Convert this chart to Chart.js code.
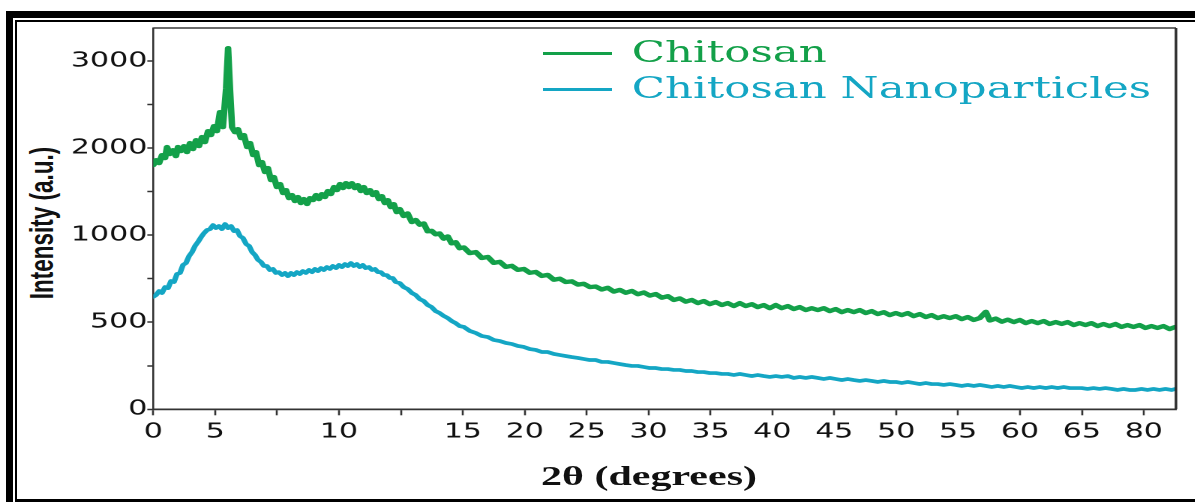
<!DOCTYPE html>
<html>
<head>
<meta charset="utf-8">
<script src="https://cdn.jsdelivr.net/npm/chart.js@4.4.1/dist/chart.umd.min.js"></script>
<style>
  html, body { margin:0; padding:0; background:#fff; width:1195px; height:502px; overflow:hidden; }
  #outer { position:absolute; left:6px; top:11px; width:1400px; height:700px; border-left:7px solid #000; border-top:7px solid #000; box-sizing:border-box; }
  #inner { position:absolute; left:15px; top:20px; width:1400px; height:482px; border-left:2px solid #000; border-top:2px solid #000; border-bottom:3px solid #000; box-sizing:border-box; }
  #wrap { position:absolute; left:0; top:0; width:797px; height:502px; transform:scaleX(1.5); transform-origin:0 0; }
  #c { position:absolute; left:0; top:0; }
  .lg-line { position:absolute; left:361.8px; width:46px; height:2.7px; }
  .lg-text { position:absolute; left:421.1px; font-family:'DejaVu Serif', serif; font-size:29px; line-height:29px; white-space:nowrap; }
  #xtitle { position:absolute; left:332.7px; width:200px; top:462px; text-align:center; font-family:'Liberation Serif', serif; font-weight:bold; font-size:28px; line-height:28px; color:#111; white-space:nowrap; }
  #ytitle { position:absolute; left:-58px; top:210px; width:200px; height:26px; line-height:26px; text-align:center; font-family:'Liberation Sans', Arial, sans-serif; font-weight:bold; font-size:22.5px; color:#111; transform:rotate(-90deg) scaleY(1.5); white-space:nowrap; }
</style>
</head>
<body>
<div id="outer"></div>
<div id="inner"></div>
<div id="ytitle">Intensity (a.u.)</div>
<div id="wrap">
  <canvas id="c" width="797" height="502"></canvas>
  <div class="lg-line" id="lgl1" style="top:52px"></div>
  <div class="lg-text" id="lgt1" style="top:38.2px">Chitosan</div>
  <div class="lg-line" id="lgl2" style="top:88px"></div>
  <div class="lg-text" id="lgt2" style="top:73.8px">Chitosan Nanoparticles</div>
  <div id="xtitle">2θ (degrees)</div>
</div>
<script>
// ---------- data ----------
const seriesNames = ['Chitosan', 'Chitosan Nanoparticles'];
const seriesColors = ['#13a049', '#14a6c4'];

const xTickValues = [0, 5, 7.5, 10, 12.5, 15, 20, 25, 30, 35, 40, 45, 50, 55, 60, 65, 80];
const xTickLabels = ['0', '5', '', '10', '', '15', '20', '25', '30', '35', '40', '45', '50', '55', '60', '65', '80'];
const yTickValues = [0, 250, 500, 750, 1000, 1500, 2000, 2500, 3000];
const yTickLabels = ['0', '', '500', '', '1000', '', '2000', '', '3000'];

// axis segments as drawn in the figure: [value, tick slot]
const xBreaks = [[0, 0], [5, 1], [10, 3], [15, 5], [65, 15], [80, 16]];
const yBreaks = [[0, 0], [1000, 4], [3000, 8]];

const chitosanTheta = [0,0.22,0.47,0.70,0.95,1.11,1.34,1.59,1.83,1.99,2.24,2.48,2.72,2.96,3.21,3.45,3.69,3.93,4.17,4.42,4.66,4.90,5.07,5.19,5.31,5.44,5.52,5.60,5.68,5.80,5.92,6.04,6.16,6.29,6.41,6.53,6.65,6.77,6.89,7.01,7.13,7.25,7.37,7.49,7.62,7.74,7.86,7.98,8.10,8.22,8.34,8.46,8.58,8.71,8.83,8.95,9.07,9.19,9.31,9.43,9.55,9.67,9.80,9.92,10.04,10.16,10.28,10.40,10.52,10.64,10.76,10.88,11.00,11.12,11.25,11.37,11.49,11.61,11.73,11.85,11.97,12.09,12.21,12.33,12.45,12.61,12.77,12.94,13.10,13.26,13.42,13.58,13.74,13.90,14.06,14.23,14.39,14.55,14.71,14.87,15.08,15.56,16.05,16.53,17.02,17.50,17.99,18.47,18.96,19.44,19.93,20.41,20.89,21.38,21.86,22.35,22.83,23.32,23.80,24.29,24.77,25.26,25.74,26.22,26.71,27.19,27.68,28.16,28.65,29.13,29.62,30.10,30.59,31.07,31.56,32.04,32.52,33.01,33.49,33.98,34.46,34.95,35.43,35.92,36.40,36.89,37.37,37.85,38.34,38.82,39.31,39.79,40.28,40.76,41.25,41.73,42.21,42.70,43.18,43.67,44.15,44.64,45.12,45.61,46.09,46.58,47.06,47.54,48.03,48.51,49.00,49.48,49.97,50.45,50.94,51.42,51.91,52.39,52.87,53.36,53.84,54.33,54.81,55.30,55.78,56.27,56.75,57.24,57.56,58.04,58.53,59.01,59.50,59.98,60.46,60.95,61.43,61.92,62.40,62.89,63.37,63.85,64.34,64.82,65.87,67.33,68.78,70.24,71.69,73.14,74.59,76.05,77.50,78.95,80.41,81.86,83.31,84.77,86.22,87.67];
const chitosanIntensity = [1805,1862,1828,1920,1885,2013,1932,1977,1908,2013,1966,2023,1954,2058,1989,2092,2023,2127,2069,2195,2150,2253,2195,2414,2241,2688,3148,2666,2241,2183,2218,2115,2150,2012,2058,1920,1954,1805,1840,1725,1771,1633,1668,1553,1587,1484,1518,1426,1461,1392,1438,1369,1415,1358,1426,1403,1461,1415,1472,1438,1507,1472,1553,1518,1587,1541,1598,1553,1598,1541,1575,1507,1553,1484,1518,1461,1495,1415,1449,1369,1403,1323,1357,1265,1300,1220,1250,1150,1175,1120,1135,1045,1050,1010,1020,980,993,953,960,925,930,897,903,869,875,841,847,818,824,801,806,784,789,766,772,744,750,731,735,716,721,702,705,688,698,676,686,669,680,661,671,653,662,641,650,628,637,618,628,610,622,604,616,599,610,593,610,593,604,587,599,581,599,581,593,576,587,570,581,570,581,564,576,558,570,558,570,553,564,547,558,541,553,541,553,535,547,530,541,524,535,524,535,518,530,513,524,560,510,521,503,515,501,513,495,507,495,507,490,501,490,501,484,495,484,495,478,490,478,490,473,484,473,484,467,478,467,478,461,473];

const nanoTheta = [0,0.22,0.47,0.70,0.95,1.19,1.43,1.67,1.91,2.16,2.40,2.64,2.89,3.13,3.37,3.61,3.86,4.10,4.34,4.58,4.83,5.03,5.15,5.27,5.40,5.52,5.64,5.76,5.88,6.00,6.12,6.25,6.37,6.49,6.61,6.73,6.85,6.97,7.09,7.21,7.33,7.45,7.57,7.70,7.82,7.94,8.06,8.18,8.30,8.42,8.54,8.66,8.79,8.91,9.03,9.15,9.27,9.39,9.51,9.63,9.75,9.88,10.00,10.12,10.24,10.36,10.48,10.60,10.72,10.84,10.96,11.08,11.21,11.33,11.45,11.57,11.69,11.81,11.93,12.05,12.17,12.29,12.45,12.61,12.77,12.94,13.10,13.26,13.42,13.58,13.74,13.90,14.06,14.23,14.39,14.55,14.71,14.87,15.08,15.56,16.05,16.53,17.02,17.50,17.99,18.47,18.96,19.44,19.93,20.41,20.89,21.38,21.86,22.35,22.83,23.32,23.80,24.29,24.77,25.26,25.74,26.22,26.71,27.19,27.68,28.16,28.65,29.13,29.62,30.10,30.59,31.07,31.56,32.04,32.52,33.01,33.49,33.98,34.46,34.95,35.43,35.92,36.40,36.89,37.37,37.85,38.34,38.82,39.31,39.79,40.28,40.76,41.25,41.73,42.21,42.70,43.18,43.67,44.15,44.64,45.12,45.61,46.09,46.58,47.06,47.54,48.03,48.51,49.00,49.48,49.97,50.45,50.94,51.42,51.91,52.39,52.87,53.36,53.84,54.33,54.81,55.30,55.78,56.27,56.75,57.24,57.72,58.20,58.69,59.17,59.66,60.14,60.63,61.11,61.60,62.08,62.56,63.05,63.53,64.02,64.50,64.98,66.36,67.82,69.27,70.72,72.18,73.63,75.08,76.54,77.99,79.44,80.89,82.35,83.80,85.25,86.70,87.67];
const nanoIntensity = [646,656,679,668,702,696,737,731,777,783,829,840,880,903,938,961,989,1024,1059,1070,1116,1082,1105,1070,1128,1082,1105,1047,1059,995,984,949,938,903,886,858,846,823,823,800,806,783,788,771,783,765,783,771,788,777,794,783,800,788,806,794,811,800,817,806,823,811,829,817,834,823,840,823,834,817,829,811,817,800,806,788,788,771,771,754,754,731,725,702,691,668,656,633,622,599,587,564,553,536,524,507,495,478,473,450,438,421,415,398,392,381,375,364,358,346,341,329,329,318,312,306,300,295,289,283,283,272,272,266,260,254,249,249,243,237,237,231,231,226,226,220,220,214,214,208,208,203,203,197,203,197,191,197,191,186,191,186,191,180,186,180,186,180,174,180,174,168,174,168,163,168,163,157,163,157,157,151,157,151,145,151,145,145,140,145,140,134,140,134,140,134,128,134,128,134,128,122,128,122,128,122,128,122,128,122,122,122,117,122,117,122,117,111,117,111,111,117,111,117,111,117,111,117];

// ---------- a scale that follows the figure's uneven tick spacing ----------
class SegmentedScale extends Chart.LinearScale {
  static id = 'segmented';
  static defaults = {};
  toSlot(v) {
    const b = this.options.breaks;
    let i = 1;
    while (i < b.length - 1 && v > b[i][0]) i++;
    const a = b[i - 1], c = b[i];
    return a[1] + (v - a[0]) * (c[1] - a[1]) / (c[0] - a[0]);
  }
  fromSlot(s) {
    const b = this.options.breaks;
    let i = 1;
    while (i < b.length - 1 && s > b[i][1]) i++;
    const a = b[i - 1], c = b[i];
    return a[0] + (s - a[1]) * (c[0] - a[0]) / (c[1] - a[1]);
  }
  buildTicks() {
    return this.options.tickValues.map(v => ({ value: v }));
  }
  getPixelForValue(value) {
    if (value === null || value === undefined || isNaN(value)) return NaN;
    const s0 = this.toSlot(this.min), s1 = this.toSlot(this.max);
    return this.getPixelForDecimal((this.toSlot(value) - s0) / (s1 - s0));
  }
  getValueForPixel(pixel) {
    const s0 = this.toSlot(this.min), s1 = this.toSlot(this.max);
    return this.fromSlot(s0 + this.getDecimalForPixel(pixel) * (s1 - s0));
  }
}
Chart.register(SegmentedScale);

document.getElementById('lgl1').style.background = seriesColors[0];
document.getElementById('lgl2').style.background = seriesColors[1];
document.getElementById('lgt1').style.color = seriesColors[0];
document.getElementById('lgt2').style.color = seriesColors[1];
document.getElementById('lgt1').textContent = seriesNames[0];
document.getElementById('lgt2').textContent = seriesNames[1];

const framePlugin = {
  id: 'frame',
  afterDraw(chart) {
    const { ctx, chartArea: a } = chart;
    ctx.save();
    ctx.strokeStyle = '#3a3a3a';
    ctx.lineWidth = 1.4;
    ctx.beginPath(); ctx.moveTo(a.left, a.top); ctx.lineTo(a.right, a.top); ctx.stroke();
    ctx.lineWidth = 1.7;
    ctx.strokeStyle = '#2a2a2a';
    ctx.beginPath(); ctx.moveTo(a.right, a.top); ctx.lineTo(a.right, a.bottom); ctx.stroke();
    ctx.restore();
  }
};

const tickFont = { family: "'DejaVu Sans', sans-serif", size: 20 };

new Chart(document.getElementById('c'), {
  type: 'line',
  data: {
    datasets: [
      { label: seriesNames[0], data: chitosanTheta.map((t, i) => ({ x: t, y: chitosanIntensity[i] })),
        borderColor: seriesColors[0], borderWidth: 4.3, pointRadius: 0, tension: 0, borderJoinStyle: 'round', borderCapStyle: 'round' },
      { label: seriesNames[1], data: nanoTheta.map((t, i) => ({ x: t, y: nanoIntensity[i] })),
        borderColor: seriesColors[1], borderWidth: 3.7, pointRadius: 0, tension: 0, borderJoinStyle: 'round', borderCapStyle: 'round' }
    ]
  },
  options: {
    responsive: false,
    animation: false,
    devicePixelRatio: 2,
    layout: { padding: { left: 0, right: 13, top: 28, bottom: 0 } },
    plugins: { legend: { display: false }, tooltip: { enabled: false } },
    scales: {
      x: {
        type: 'segmented', breaks: xBreaks, tickValues: xTickValues,
        min: 0, max: 87.8,
        grid: { drawOnChartArea: false, drawTicks: true, tickLength: 6, tickColor: '#333', tickWidth: 1.3 },
        border: { display: true, color: '#333', width: 1.7 },
        ticks: { autoSkip: false, maxRotation: 0, padding: 5, color: '#111', font: tickFont,
                 callback: (v, i) => xTickLabels[i] },
        afterFit: (s) => { s.height = 92.7; }
      },
      y: {
        type: 'segmented', breaks: yBreaks, tickValues: yTickValues,
        min: 0, max: 3380,
        grid: { drawOnChartArea: false, drawTicks: true, tickLength: 4, tickColor: '#333', tickWidth: 1.5 },
        border: { display: true, color: '#333', width: 1.3 },
        ticks: { autoSkip: false, padding: 0, color: '#111', font: tickFont,
                 callback: (v, i) => yTickLabels[i] },
        afterFit: (s) => { s.width = 102.2; }
      }
    }
  },
  plugins: [framePlugin]
});
</script>
</body>
</html>
